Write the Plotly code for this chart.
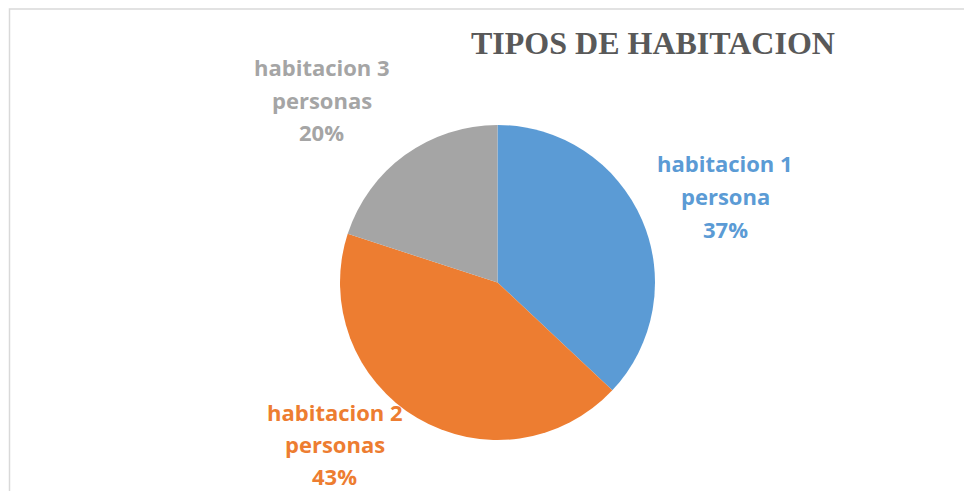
import plotly.graph_objects as go

# ---- data ----
categories = ["habitacion 1 persona", "habitacion 2 personas", "habitacion 3 personas"]
values = [37, 43, 20]
label_line1 = ["habitacion 1", "habitacion 2", "habitacion 3"]
label_line2 = ["persona", "personas", "personas"]
colors = ["#5B9BD5", "#ED7D31", "#A5A5A5"]
title_text = "TIPOS DE HABITACION"

W, H = 972, 491
OFF = 8  # page body margin in the browser

def px(x):
    return (x - OFF) / W

def py(y):
    return 1 - (y - OFF) / H

# pie geometry (window pixels)
cx, cy, r = 497.5, 282.5, 157.5

fig = go.Figure()
fig.add_trace(go.Pie(
    labels=categories,
    values=values,
    marker=dict(colors=colors, line=dict(width=0)),
    sort=False,
    direction="clockwise",
    rotation=0,
    textinfo="none",
    hoverinfo="label+percent",
    showlegend=False,
    domain=dict(x=[px(cx - r), px(cx + r)], y=[py(cy + r), py(cy - r)]),
))

# label anchor positions (window pixel centers of each text line)
label_pos = [
    (725, [163, 196, 229]),
    (334.5, [412, 444, 476]),
    (321.5, [67, 100, 132]),
]

total = sum(values)
annotations = []
for i in range(len(categories)):
    pct = f"{round(values[i] / total * 100)}%"
    lines = [label_line1[i], label_line2[i], pct]
    xc, ys = label_pos[i]
    for line, yc in zip(lines, ys):
        annotations.append(dict(
            x=px(xc), y=py(yc), xref="paper", yref="paper",
            text=f"<b>{line}</b>", showarrow=False,
            xanchor="center", yanchor="middle",
            font=dict(family="Open Sans", size=22, color=colors[i]),
        ))

annotations.append(dict(
    x=px(653), y=py(43), xref="paper", yref="paper",
    text=f"<b>{title_text}</b>", showarrow=False,
    xanchor="center", yanchor="middle",
    font=dict(family="Liberation Serif", size=32, color="#595959"),
))

fig.update_layout(
    width=W, height=H,
    margin=dict(l=0, r=0, t=0, b=0),
    paper_bgcolor="white",
    plot_bgcolor="white",
    annotations=annotations,
    shapes=[dict(
        type="rect", xref="paper", yref="paper",
        x0=px(9.5), x1=1.05, y0=-0.05, y1=py(9),
        line=dict(color="#D9D9D9", width=1.5),
        fillcolor="rgba(0,0,0,0)", layer="below",
    )],
)

fig.write_html("out.html")
